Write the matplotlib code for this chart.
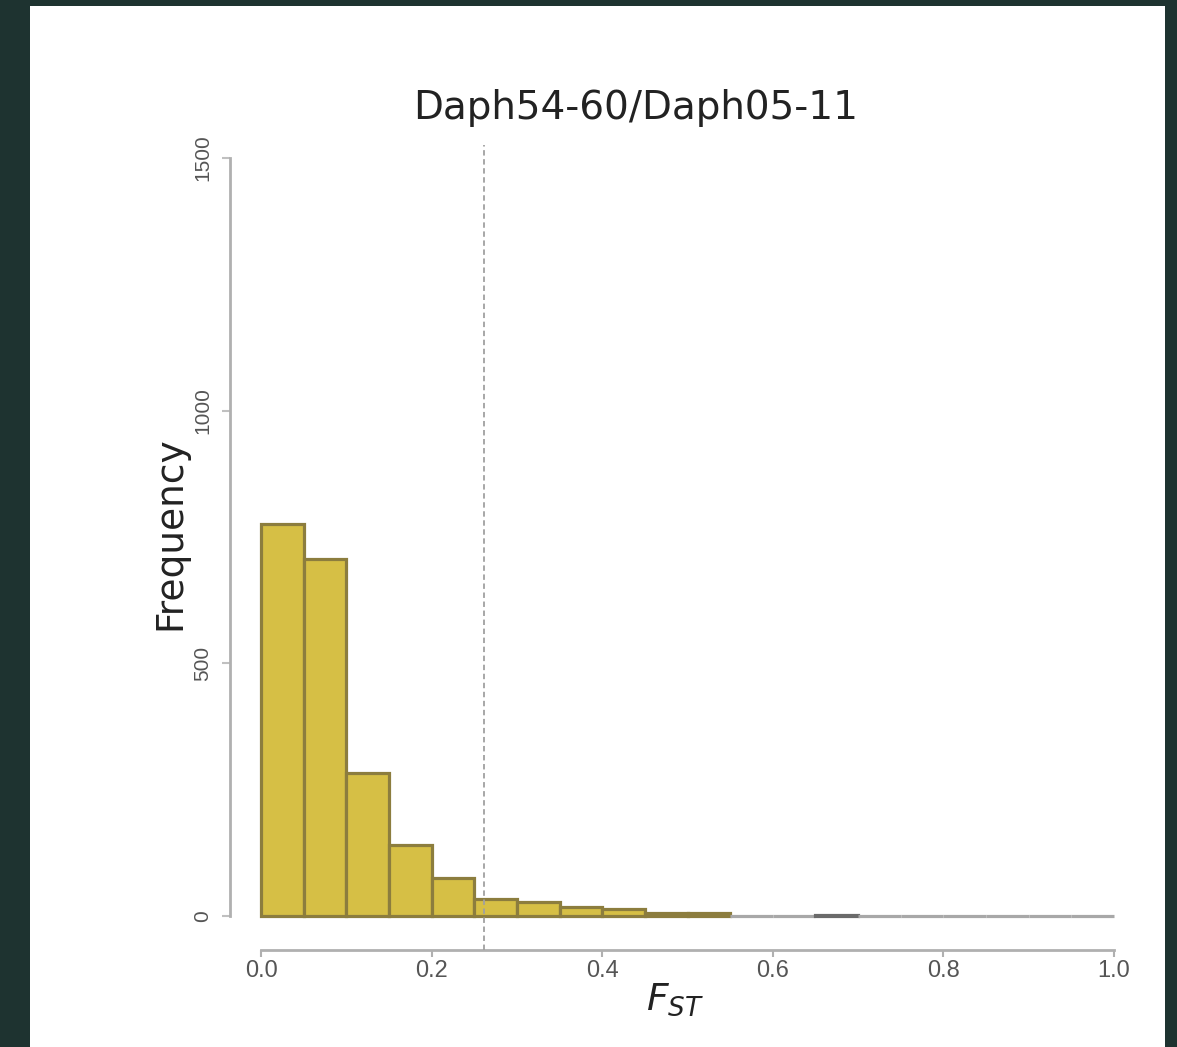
import numpy as np
import matplotlib.pyplot as plt
from matplotlib.patches import Rectangle

# FST histogram, bin width 0.05 over [0, 1]
bin_edges = np.round(np.arange(0, 1.0001, 0.05), 2)
counts = [775, 706, 283, 140, 75, 34, 28, 18, 14, 6, 6, 0, 0, 1, 0, 0, 0, 0, 0, 0]
fst_cutoff = 0.2614
title = "Daph54-60/Daph05-11"
yticks = [0, 500, 1000, 1500]
xticks = [0.0, 0.2, 0.4, 0.6, 0.8, 1.0]

W, H = 1177, 1047
fig = plt.figure(figsize=(W / 100, H / 100), dpi=100, facecolor='#1e3330')
fig.patches.append(Rectangle((30 / W, 0), (1165 - 30) / W, (H - 6) / H,
                             transform=fig.transFigure, facecolor='white',
                             edgecolor='none', zorder=-5))

ax = fig.add_axes([261 / W, (H - 916) / H, (1114 - 261) / W, (916 - 158) / H])
ax.set_facecolor('none')
ax.set_xlim(0, 1)
ax.set_ylim(0, 1500)

left = bin_edges[:-1]
widths = np.diff(bin_edges)
edge_cols = ['#8c7d3e' if c > 1 else ('#6a6a6a' if c == 1 else '#a8a8a8') for c in counts]
ax.bar(left, counts, width=widths, align='edge', color='#d6bf45',
       edgecolor=edge_cols, linewidth=2.3, clip_on=False, zorder=2)

# threshold line
ax.plot([fst_cutoff, fst_cutoff], [-67, 1526], color='#a0a0a0', lw=1.3,
        dashes=(3, 2), clip_on=False, zorder=3)

for s in ['top', 'right']:
    ax.spines[s].set_visible(False)
ax.spines['left'].set_position(('outward', 22.3))
ax.spines['bottom'].set_position(('outward', 24.5))
ax.spines['left'].set_bounds(0, 1500)
ax.spines['bottom'].set_bounds(0, 1)
for s in ['left', 'bottom']:
    ax.spines[s].set_color('#b0b0b0')
    ax.spines[s].set_linewidth(2.0)

ax.set_yticks(yticks)
ax.set_yticklabels([str(v) for v in yticks], rotation=90, va='center',
                   family='Liberation Sans', fontsize=15, color='#555555')
ax.set_xticks(xticks)
ax.set_xticklabels([f"{v:.1f}" for v in xticks], family='Liberation Sans',
                   fontsize=17, color='#555555')
ax.tick_params(axis='y', length=6, width=1.5, color='#c0c0c0', pad=7)
ax.tick_params(axis='x', length=5, width=1.5, color='#b0b0b0', pad=2)

fig.text(170 / W, 1 - 533 / H, "Frequency", rotation=90, ha='center', va='center',
         fontsize=27, color='#222222')
fig.text(675 / W, 1 - 1000 / H, "$F_{ST}$", ha='center', va='center',
         fontsize=27, color='#222222')
fig.text(636 / W, 1 - 108 / H, title, ha='center', va='center',
         fontsize=28, color='#222222')

fig.savefig('out.png', dpi=100, facecolor=fig.get_facecolor())
